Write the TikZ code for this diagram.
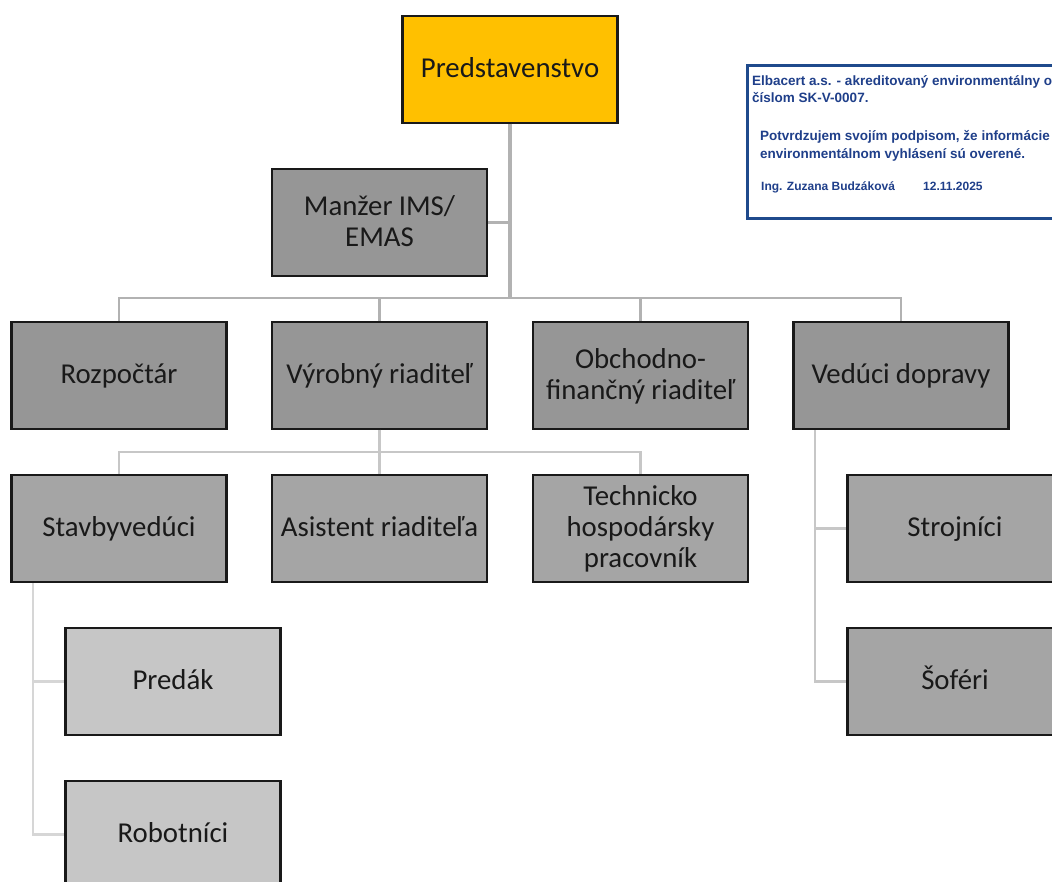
\documentclass[tikz,border=0pt]{standalone}
\usepackage{fontspec}
\setmainfont{Carlito}
\newfontfamily\certfont{Liberation Sans}
\definecolor{certblue}{HTML}{1F3F8A}
\definecolor{certedge}{HTML}{1F4A8C}
\definecolor{lvlone}{HTML}{969696}
\definecolor{lvltwo}{HTML}{A5A5A5}
\definecolor{lvlthree}{HTML}{C6C6C6}
\definecolor{topgold}{HTML}{FFC000}
\tikzset{
  x=1pt,y=-1pt,
  orgbox/.style={draw=black!90,line width=2.2pt,minimum width=215pt,minimum height=106.8pt,inner sep=0pt,align=center,text width=213pt,font=\fontsize{28.8}{31}\selectfont,text=black!90,execute at begin node={\spaceskip=6.2pt\relax\rule{0pt}{26.7pt}},execute at end node={\rule[-9.3pt]{0pt}{9.3pt}}},
  boxtop/.style={orgbox,fill=topgold},
  boxone/.style={orgbox,fill=lvlone},
  boxtwo/.style={orgbox,fill=lvltwo},
  boxthree/.style={orgbox,fill=lvlthree},
  linkone/.style={draw=black!30,line width=3.4pt},
  linkthin/.style={draw=black!30,line width=2.8pt},
  linktwo/.style={draw=black!22,line width=2.8pt},
  linkthree/.style={draw=black!16,line width=2.8pt},
  certline/.style={anchor=base west,inner sep=0pt,text=certblue,font=\certfont\bfseries\fontsize{#1}{#1}\selectfont},
}
\begin{document}
\begin{tikzpicture}
\useasboundingbox (0,0) rectangle (1052,881);
\clip (0,0) rectangle (1052,881);
% junctions
\coordinate (busc) at (510,298);
\coordinate (busl) at (119,298);
\coordinate (busr) at (901,298);
\coordinate (subl) at (119,452);
\coordinate (subr) at (640.5,452);
\coordinate (dopx) at (815,430);
\coordinate (stax) at (33,583);
% nodes
\node[boxtop] (top) at (510,69.2) {Predstavenstvo};
\node[boxone] (ims) at (379.5,222.2) {Manžer IMS/\\EMAS};
\node[boxone] (roz) at (119,375.2) {Rozpočtár};
\node[boxone] (vyr) at (379.5,375.2) {Výrobný riaditeľ};
\node[boxone] (obc) at (640.5,375.2) {Obchodno-\\finančný riaditeľ};
\node[boxone] (dop) at (901,375.2) {Vedúci dopravy};
\node[boxtwo] (sta) at (119,528.2) {Stavbyvedúci};
\node[boxtwo] (asi) at (379.5,528.2) {Asistent riaditeľa};
\node[boxtwo] (tec) at (640.5,528.2) {Technicko\\hospodársky\\pracovník};
\node[boxtwo] (str) at (955,528.2) {Strojníci};
\node[boxtwo] (sof) at (955,681.2) {Šoféri};
\node[boxthree] (pre) at (173,681.2) {Predák};
\node[boxthree] (rob) at (173,834.2) {Robotníci};
% connectors
\draw[linkone] (top.south) -- (busc);
\draw[linkthin] (ims.east) -- (ims.east -| busc);
\draw[linkthin] (roz.north) -- (busl) -- (busr) -- (dop.north);
\draw[linkthin] (vyr.north) -- (vyr.north |- busc);
\draw[linkthin] (obc.north) -- (obc.north |- busc);
\draw[linktwo] (sta.north) -- (subl) -- (subr) -- (tec.north);
\draw[linktwo] (vyr.south) -- (asi.north);
\draw[linktwo] (dopx) -- (dopx |- sof.west) -- (sof.west);
\draw[linktwo] (dopx |- str.west) -- (str.west);
\draw[linkthree] (stax) -- (stax |- rob.west) -- (rob.west);
\draw[linkthree] (stax |- pre.west) -- (pre.west);
% certificate
\node[draw=certedge,line width=2.4pt,fill=white,minimum width=340pt,minimum height=153pt,inner sep=0pt] (cert) at (917.5,142) {};
\node[certline=13.5] (c1) at (752,85.5) {Elbacert a.s. - akreditovaný environmentálny o};
\node[certline=13.5] (c2) at (752,102.5) {číslom SK-V-0007.};
\node[certline=13.5] (c3) at (760,140) {Potvrdzujem svojím podpisom, že informácie};
\node[certline=13.5] (c4) at (760,158.5) {environmentálnom vyhlásení sú overené.};
\node[certline=12] (c5) at (761,190) {Ing. Zuzana Budzáková};
\node[certline=12] (c6) at (923,190) {12.11.2025};
\end{tikzpicture}
\end{document}
